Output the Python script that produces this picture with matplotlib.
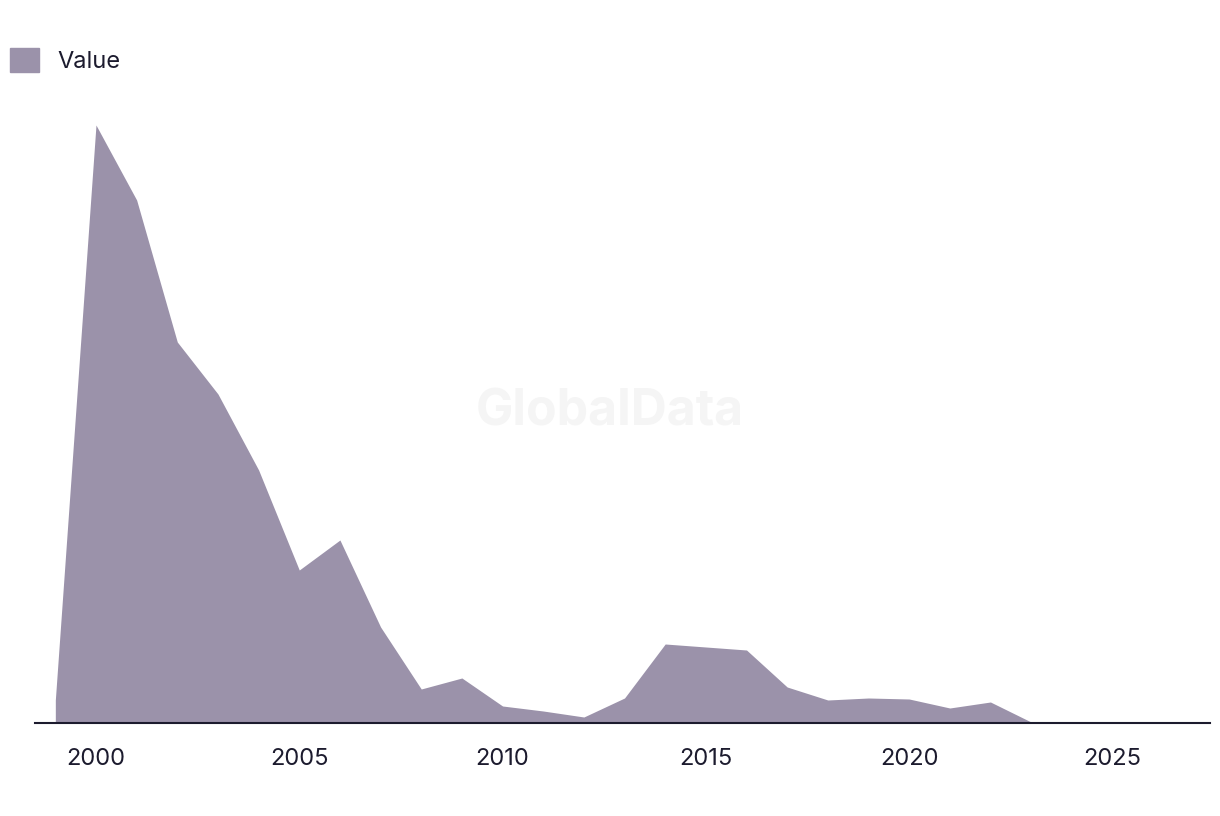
import numpy as np
import matplotlib
matplotlib.use("Agg")
import matplotlib.pyplot as plt
from matplotlib.patches import Patch

plt.rcParams['font.family'] = ['Inter', 'DejaVu Sans']

years = list(range(1999, 2025))
values = [23, 598, 523, 381, 329, 253, 153, 183, 96, 34, 45, 17, 12, 6, 25,
          79, 76, 73, 36, 23, 25, 24, 15, 21, 1, 0]
series_name = "Value"
tick_years = [2000, 2005, 2010, 2015, 2020, 2025]

fill_color = "#9b92aa"
text_color = "#1c1b2e"

fig = plt.figure(figsize=(12.2, 8.16), dpi=100)
ax = fig.add_axes([35 / 1220, 1 - 723 / 816, 1175 / 1220, 623 / 816])

ax.fill_between(years, values, 0, color=fill_color, linewidth=0)
ax.set_xlim(1998.5, 2027.4)
ax.set_ylim(0, 623)

for s in ["top", "right", "left"]:
    ax.spines[s].set_visible(False)
ax.spines["bottom"].set_color(text_color)
ax.spines["bottom"].set_linewidth(1.5)
ax.set_yticks([])
ax.set_xticks(tick_years)
ax.tick_params(axis="x", length=0, pad=18, labelsize=17, labelcolor=text_color)

fig.text(0.5, 1 - 412 / 816, "GlobalData", ha="center", va="center",
         fontsize=36, fontweight="bold", color="#f5f5f5", zorder=0)

leg = fig.legend(handles=[Patch(color=fill_color, label=series_name)],
                 loc="upper left", bbox_to_anchor=(-0.005, 1 - 31 / 816),
                 frameon=False, fontsize=17, handlelength=1.2, handleheight=1.2,
                 handletextpad=0.8, labelcolor=text_color, borderaxespad=0.3)

fig.savefig("out.png", dpi=100)
